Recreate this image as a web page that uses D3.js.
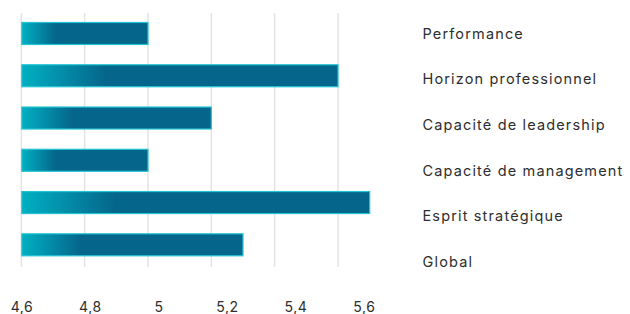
<!DOCTYPE html>
<html><head><meta charset="utf-8">
<script src="https://cdn.jsdelivr.net/npm/d3@7"></script>
<style>
html,body{margin:0;padding:0;background:#fff;}
svg{display:block;font-family:Inter,"DejaVu Sans",sans-serif;}
</style></head>
<body>
<svg id="chart" width="630" height="314"></svg>
<script>
const categories = ["Performance","Horizon professionnel","Capacité de leadership","Capacité de management","Esprit stratégique","Global"];
const values = [5.0, 5.6, 5.2, 5.0, 5.7, 5.3];
const gridTicks = [4.6, 4.8, 5.0, 5.2, 5.4, 5.6];
const tickLabels = ["4,6","4,8","5","5,2","5,4","5,6"];

const svg = d3.select("#chart");
const defs = svg.append("defs");
const grad = defs.append("linearGradient").attr("id","barGrad")
  .attr("x1","0").attr("x2","1").attr("y1","0").attr("y2","0");
grad.append("stop").attr("offset","0").attr("stop-color","#00b0c2");
grad.append("stop").attr("offset","0.1").attr("stop-color","#0394ae");
grad.append("stop").attr("offset","0.27").attr("stop-color","#05658a");
grad.append("stop").attr("offset","1").attr("stop-color","#05658a");

const x = d3.scaleLinear().domain([4.6, 5.6]).range([21.3, 338]);
const y = d3.scaleBand().domain(categories).range([22.5, 255.8]).paddingInner(0.48).paddingOuter(0);
const yLabel = d3.scalePoint().domain(categories).range([38.8, 267]);
const xLabel = d3.scalePoint().domain(tickLabels).range([22, 364.5]);

// gridlines
svg.append("g").selectAll("line").data(gridTicks).join("line")
  .attr("x1", d => x(d)).attr("x2", d => x(d))
  .attr("y1", 13).attr("y2", 267)
  .attr("stroke", "#e4e4e4").attr("stroke-width", 1.5);

// bars
svg.append("g").selectAll("rect").data(categories).join("rect")
  .attr("x", x(4.6) + 0.5)
  .attr("y", d => y(d))
  .attr("width", (d,i) => x(values[i]) - x(4.6) - 0.5)
  .attr("height", y.bandwidth())
  .attr("fill", "url(#barGrad)")
  .attr("stroke", "#22c4d4").attr("stroke-width", 1.2);

// category labels
svg.append("g").selectAll("text").data(categories).join("text")
  .attr("x", 422.5).attr("y", d => yLabel(d))
  .attr("fill", "#2e2e2e").attr("font-size", 14.5)
  .attr("letter-spacing", 1.15)
  .text(d => d);

// x tick labels
svg.append("g").selectAll("text").data(tickLabels).join("text")
  .attr("x", d => xLabel(d)).attr("y", 311.5)
  .attr("text-anchor", "middle")
  .attr("fill", "#2e2e2e").attr("font-size", 14)
  .attr("letter-spacing", 0.6)
  .text(d => d);
</script>
</body></html>
